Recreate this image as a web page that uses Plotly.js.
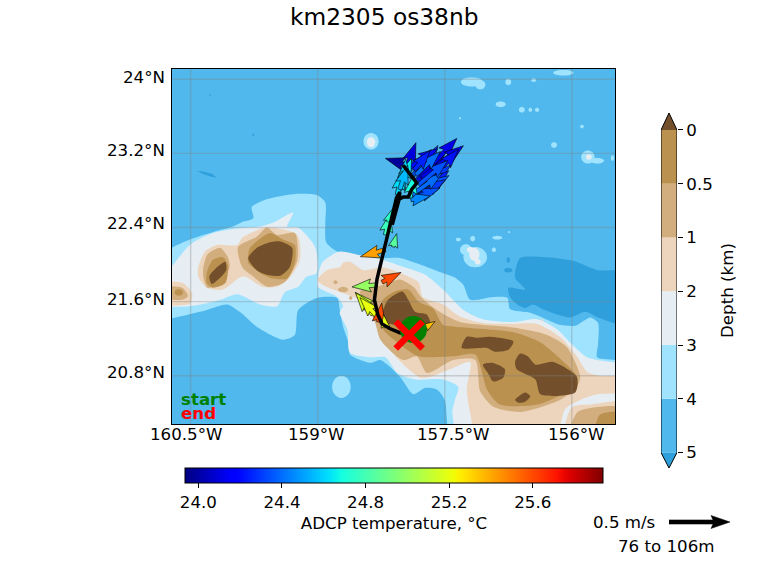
<!DOCTYPE html>
<html><head><meta charset="utf-8">
<script src="https://cdn.plot.ly/plotly-3.0.1.min.js"></script>
<style>html,body{margin:0;padding:0;background:#fff}</style></head>
<body><div id="chart" style="width:768px;height:576px"></div>
<script>
// ---------- Depth band colours (deep to land) ----------
const depthColors = ['#50b8ec','#9fe3ff','#e6edf3','#ecd5bc','#d2ae7e','#ba914f'];
const deepColor = '#2f9fdb', landColor = '#73502b';
const depthTickText = ['5','4','3','2','1','0.5','0'];

// ---------- Bathymetry outlines: [lon,lat,...] ----------
const deepPolys = [
 [-156.61,22.07,-156.29,22.08,-155.98,22.04,-155.70,21.94,-155.49,21.92,-155.49,21.35,-155.69,21.43,-155.84,21.49,-156.02,21.43,-156.32,21.51,-156.46,21.57,-156.55,21.53,-156.63,21.56,-156.73,21.65,-156.75,21.75,-156.55,21.73,-156.67,21.86],
 [-160.42,23.01,-160.25,22.98,-160.20,22.94,-160.33,22.97]
];
const deepIslets = [[-159.76,23.40,.012,.012],[-160.27,23.83,.015,.006],[-156.75,22.05,.02,.03],[-156.75,21.94,.05,.025]];
const km4Polys = [
 [-160.72,22.08,-160.51,22.27,-160.24,22.35,-160.00,22.41,-159.89,22.46,-159.76,22.50,-159.78,22.62,-159.62,22.70,-159.29,22.76,-159.01,22.75,-158.91,22.67,-158.91,22.45,-158.90,22.24,-158.77,22.14,-158.54,22.10,-158.23,22.07,-158.03,22.07,-157.79,22.00,-157.56,21.92,-157.38,21.86,-157.28,21.78,-157.20,21.62,-156.93,21.65,-156.76,21.64,-156.73,21.52,-156.49,21.48,-156.35,21.43,-156.14,21.35,-155.96,21.34,-155.78,21.43,-155.69,21.37,-155.69,21.14,-155.70,21.00,-155.49,20.93,-155.49,20.28,-157.41,20.28,-157.50,20.54,-157.59,20.65,-157.73,20.67,-157.87,20.60,-158.03,20.79,-158.26,20.97,-158.38,20.94,-158.62,21.03,-158.62,21.11,-158.70,21.33,-158.74,21.51,-158.77,21.64,-159.01,21.64,-159.23,21.51,-159.27,21.24,-159.41,21.19,-159.72,21.33,-159.92,21.49,-160.07,21.57,-160.39,21.49,-160.72,21.43]
];
const km4Islets = [[-158.72,20.68,.11,.12],[-158.37,23.33,.09,.09],[-157.18,23.97,.13,.05],[-157.08,23.94,.06,.05],[-156.75,23.97,.035,.035],[-156.45,23.99,.03,.02],[-156.10,24.07,.12,.03],[-156.84,23.73,.06,.03],[-156.59,23.67,.035,.03],[-156.49,23.67,.022,.022],[-156.41,23.67,.025,.022],[-155.88,23.49,.022,.02],[-156.21,23.29,.035,.03],[-155.81,23.16,.08,.07],[-155.70,23.12,.08,.03],[-155.52,23.15,.02,.03],[-157.32,23.58,.012,.012],[-157.14,22.08,.14,.11],[-157.25,22.16,.07,.06],[-157.17,22.28,.03,.03],[-156.88,22.29,.06,.02],[-156.92,22.16,.025,.025],[-156.74,22.35,.012,.012],[-157.34,22.27,.03,.02]];
const km3Polys = [
 [-160.72,21.76,-160.51,22.21,-160.24,22.34,-159.95,22.39,-159.68,22.41,-159.53,22.45,-159.29,22.56,-159.36,22.41,-159.23,22.40,-159.03,22.19,-159.01,21.91,-159.13,21.87,-159.23,21.76,-159.39,21.70,-159.48,21.55,-159.68,21.57,-159.95,21.68,-160.15,21.62,-160.51,21.55,-160.72,21.57],
 [-159.00,21.87,-158.94,22.03,-158.74,22.14,-158.50,22.10,-158.23,22.05,-157.97,21.97,-157.73,21.89,-157.52,21.73,-157.28,21.51,-157.05,21.41,-156.69,21.38,-156.41,21.41,-156.17,21.30,-156.02,21.16,-155.82,21.00,-155.70,20.97,-155.49,20.89,-155.49,20.28,-157.32,20.28,-157.41,20.40,-157.38,20.54,-157.34,20.68,-157.52,20.76,-157.85,20.76,-158.06,20.83,-158.20,21.00,-158.36,21.00,-158.62,21.05,-158.65,21.30,-158.74,21.48,-158.70,21.55,-158.77,21.65,-159.00,21.76]
];
const km3Islets = [[-158.37,23.32,.05,.055],[-157.15,22.11,.06,.07],[-157.11,22.03,.035,.03],[-157.20,22.16,.04,.03],[-155.80,23.16,.035,.03]];
const km2Polys = [
 [-160.41,21.87,-160.41,21.97,-160.33,22.14,-160.19,22.21,-159.95,22.21,-159.89,22.29,-159.60,22.40,-159.24,22.32,-159.21,22.05,-159.33,21.86,-159.48,21.76,-159.65,21.76,-159.86,21.87,-159.92,21.86,-160.12,21.73,-160.31,21.75],
 [-160.72,21.80,-160.59,21.80,-160.48,21.68,-160.51,21.58,-160.72,21.58],
 [-159.00,21.84,-158.89,21.94,-158.74,21.97,-158.70,22.02,-158.62,22.03,-158.46,21.94,-158.23,21.97,-158.06,21.92,-157.81,21.81,-157.76,21.65,-157.52,21.57,-157.32,21.44,-157.05,21.37,-156.69,21.36,-156.41,21.36,-156.14,21.22,-155.94,21.01,-155.82,20.84,-155.67,20.80,-155.49,20.78,-155.49,20.63,-155.70,20.60,-155.90,20.54,-156.08,20.44,-156.20,20.28,-157.11,20.28,-157.20,20.40,-157.24,20.65,-157.20,20.95,-157.44,20.87,-157.67,20.79,-157.79,20.78,-157.95,20.89,-158.12,21.05,-158.26,21.22,-158.32,21.37,-158.38,21.53,-158.58,21.65,-158.94,21.78],
 [-156.08,20.28,-156.00,20.46,-155.78,20.49,-155.49,20.51,-155.49,20.28]
];
const km2Islets = [[-156.35,21.40,.012,.012]];
const km1Polys = [
 [-160.72,21.75,-160.60,21.75,-160.53,21.66,-160.60,21.62,-160.72,21.65],
 [-160.35,21.97,-160.30,22.11,-160.15,22.18,-160.06,22.08,-160.04,21.97,-160.15,21.80,-160.30,21.75,-160.35,21.86],
 [-159.94,22.19,-159.72,22.30,-159.60,22.40,-159.48,22.32,-159.27,22.34,-159.24,22.05,-159.39,21.81,-159.59,21.76,-159.76,21.87,-159.89,21.97],
 [-158.50,21.71,-158.23,21.78,-158.03,21.84,-157.87,21.76,-157.77,21.64,-157.56,21.49,-157.32,21.38,-156.69,21.32,-156.29,21.24,-156.06,21.11,-155.90,20.79,-155.94,20.68,-156.14,20.54,-156.61,20.41,-156.93,20.47,-157.08,20.63,-157.14,20.97,-157.40,20.97,-157.71,20.83,-157.83,21.01,-157.99,20.97,-158.26,21.19,-158.32,21.37,-158.41,21.55],
 [-156.02,20.28,-155.93,20.41,-155.49,20.45,-155.49,20.28]
];
const km1Islets = [[-158.70,21.73,.06,.03],[-158.79,21.81,.025,.02],[-158.61,21.64,.02,.02]];
const km05Polys = [
 [-160.31,21.91,-160.24,22.05,-160.12,22.08,-160.06,22.00,-160.09,21.80,-160.24,21.75,-160.31,21.80],
 [-159.82,22.11,-159.80,22.18,-159.65,22.30,-159.56,22.34,-159.41,22.27,-159.27,22.21,-159.27,22.02,-159.36,21.85,-159.53,21.85,-159.68,21.91,-159.82,22.02],
 [-158.23,21.62,-158.09,21.71,-157.93,21.73,-157.81,21.60,-157.64,21.53,-157.52,21.35,-157.38,21.33,-156.69,21.27,-156.37,21.16,-156.06,20.92,-155.94,20.79,-156.02,20.65,-156.41,20.49,-156.85,20.49,-157.00,20.65,-157.14,21.03,-157.40,21.01,-157.81,21.01,-158.03,21.14,-158.20,21.27,-158.29,21.40],
 [-155.72,20.28,-155.67,20.38,-155.49,20.40,-155.49,20.28]
];
const km05Islets = [[-160.64,21.70,.05,.035]];
const landPolys = [
 [-159.82,22.07,-159.72,22.18,-159.56,22.24,-159.44,22.25,-159.30,22.18,-159.33,21.97,-159.44,21.88,-159.60,21.89,-159.72,21.94],
 [-160.28,21.87,-160.19,21.97,-160.09,22.03,-160.08,21.94,-160.15,21.86,-160.25,21.79],
 [-158.00,21.71,-157.93,21.62,-157.85,21.49,-157.71,21.46,-157.67,21.35,-157.79,21.24,-158.09,21.35,-158.18,21.37,-158.23,21.48,-158.17,21.62],
 [-157.24,21.22,-157.12,21.21,-156.96,21.22,-156.69,21.17,-156.75,21.08,-156.91,21.06,-157.00,21.10,-157.30,21.10],
 [-157.05,20.92,-156.94,20.94,-156.79,20.87,-156.81,20.78,-156.93,20.74,-156.99,20.83],
 [-156.67,20.95,-156.61,21.04,-156.52,21.01,-156.43,20.92,-156.22,20.95,-155.94,20.79,-155.96,20.62,-156.37,20.60,-156.43,20.76,-156.65,20.87],
 [-156.67,20.54,-156.55,20.62,-156.49,20.58,-156.55,20.52,-156.63,20.51]
];

// ---------- ADCP vectors at the ship track ----------
const arrowLon = [-157.97,-157.97,-157.89,-157.84,-157.81,-157.79,-157.77,-157.77,-157.79,-157.77,-157.81,-157.85,-157.86,-157.90,-157.97,-157.93,-157.89,-157.81,-157.84,-157.86,-158.05,-157.99,-157.91,-158.06,-158.03,-158.11,-158.20,-158.17,-158.20,-158.24,-158.30,-158.37,-158.35,-158.30,-158.28,-158.20,-157.73];
const arrowLat = [23.08,23.00,22.94,22.89,22.91,22.94,22.94,22.81,22.81,22.75,22.75,22.72,22.72,22.70,22.97,23.04,22.75,22.86,22.97,23.02,22.78,22.81,22.72,22.75,22.81,22.19,22.32,22.46,22.16,21.81,21.78,21.53,21.46,21.44,21.38,21.32,21.32];
const arrowU = [-.16,.09,.16,.18,.23,.30,.34,.30,.25,.22,.25,.25,.21,.16,.16,.24,.25,.24,.20,.13,.11,.02,.03,.04,.065,.03,.04,.04,-.205,.155,-.205,-.13,-.14,-.14,.025,-.016,.08];
const arrowV = [.05,.24,.23,.30,.25,.32,.26,.33,.20,.20,.16,.15,.08,.03,.16,.16,.18,.20,.19,.16,.28,.25,.19,.20,.20,.11,.18,.11,-.057,.08,-.016,.13,.18,.155,.155,.107,.05];
const arrowTemp = [23.98,24.10,24.35,24.30,24.20,24.12,24.12,24.22,24.30,24.25,24.35,24.30,24.35,24.45,24.40,24.20,24.40,24.35,24.40,24.25,24.65,24.60,24.70,24.62,24.55,24.85,24.78,24.75,25.42,25.60,25.00,25.10,25.15,25.20,25.60,25.20,25.35];
const trackLon = [-157.92,-158.03,-158.15,-158.24,-158.29,-158.33,-158.30,-158.22,-158.15,-158.07,-158.03,-158.04,-158.12,-158.05,-157.99,-157.93,-157.89,-157.83,-157.99];
const trackLat = [21.245,21.265,21.31,21.36,21.46,21.62,21.84,22.16,22.43,22.72,22.78,22.70,22.43,22.70,22.73,22.73,22.81,22.88,23.07];
const startPoint = [-157.87,21.30];
const endPoint = [-157.92,21.24];

// ---------- Axes labels ----------
const gridLon = [-160.5,-159,-157.5,-156];
const gridLat = [24,23.2,22.4,21.6,20.8];
const lonLabels = ['160.5°W','159°W','157.5°W','156°W'];
const latLabels = ['24°N','23.2°N','22.4°N','21.6°N','20.8°N'];
const tempTicks = [24.0,24.4,24.8,25.2,25.6];
const tempTickText = ['24.0','24.4','24.8','25.2','25.6'];
const legendSpeed = 0.5;

// ---------- Geometry / helpers ----------
const W=768,H=576, FONT='"DejaVu Sans", sans-serif', FS=16.67;
const pxLon=84.67, pxLat=92.8, pxPerMs=122;
const PL=172,PR=615,PT=69,PB=424;
const xRange=[-160.72,-155.49], yRange=[20.28,24.11];
const tMin=23.936, tMax=25.936;
const fx=p=>p/W, fy=p=>1-p/H;
function interp(t,pts){for(let i=1;i<pts.length;i++){if(t<=pts[i][0]){const a=pts[i-1],b=pts[i];return a[1]+(b[1]-a[1])*(t-a[0])/(b[0]-a[0]);}}return pts[pts.length-1][1];}
function jet(t){
 const r=interp(t,[[0,0],[.35,0],[.66,1],[.89,1],[1,.5]]),g=interp(t,[[0,0],[.125,0],[.375,1],[.64,1],[.91,0],[1,0]]),b=interp(t,[[0,.5],[.11,1],[.34,1],[.65,0],[1,0]]);
 return `rgb(${Math.round(r*255)},${Math.round(g*255)},${Math.round(b*255)})`;
}
const jetScale=[];for(let i=0;i<=64;i++)jetScale.push([i/64,jet(i/64)]);
// Outlines touching the map frame run slightly past it, so curve smoothing cannot round the frame's corners
const past=(v,lo,hi,d)=>v<=lo?lo-d:(v>=hi?hi+d:v);
function unflat(list){const x=[],y=[];list.forEach(f=>{
  const fxs=[],fys=[];for(let i=0;i<f.length;i+=2){fxs.push(past(f[i],xRange[0],xRange[1],.15));fys.push(past(f[i+1],yRange[0],yRange[1],.15));}
  x.push(...fxs,fxs[0],null);y.push(...fys,fys[0],null);});return {x,y};}
function ellipses(list){return list.map(e=>{const o=[];for(let k=0;k<14;k++){const a=k/14*2*Math.PI;o.push(e[0]+e[2]*Math.cos(a),e[1]+e[3]*Math.sin(a));}return o;});}
const traces=[];
function addLevel(polys,islets,color,smooth){
 const p=unflat(polys.concat(ellipses(islets)));
 const line=smooth?{width:0,color:color,shape:'spline',smoothing:.7}:{width:0,color:color};
 traces.push({type:'scatter',mode:'lines',x:p.x,y:p.y,fill:'toself',fillcolor:color,line:line,hoverinfo:'skip',showlegend:false});
}
function arrowPoly(lon,lat,u,v){
 const dx=u*pxPerMs,dy=v*pxPerMs,L=Math.hypot(dx,dy)||1,ux=dx/L,uy=dy/L,nx=-uy,ny=ux;
 let w=4.2,hl=19,hal=17,hw=13;
 if(L<hl){const s=L/hl;w*=s;hl*=s;hal*=s;hw*=s;}
 const pts=[[0,w/2],[L-hal,w/2],[L-hl,hw/2],[L,0],[L-hl,-hw/2],[L-hal,-w/2],[0,-w/2],[0,w/2]];
 return {x:pts.map(p=>lon+(p[0]*ux+p[1]*nx)/pxLon),y:pts.map(p=>lat+(p[0]*uy+p[1]*ny)/pxLat)};
}

// ocean background of the map
addLevel([[xRange[0],yRange[0],xRange[1],yRange[0],xRange[1],yRange[1],xRange[0],yRange[1]]],[],depthColors[0],false);
// bathymetry
addLevel(deepPolys,deepIslets,deepColor,true);
addLevel(km4Polys,km4Islets,depthColors[1],true);
addLevel(km3Polys,km3Islets,depthColors[2],true);
addLevel(km2Polys,km2Islets,depthColors[3],true);
addLevel(km1Polys,km1Islets,depthColors[4],true);
addLevel(km05Polys,km05Islets,depthColors[5],true);
addLevel(landPolys,[],landColor,true);
// gridlines above the filled contours
const gridX=[],gridY=[];
gridLon.forEach(v=>{gridX.push(v,v,null);gridY.push(yRange[0],yRange[1],null);});
gridLat.forEach(v=>{gridX.push(xRange[0],xRange[1],null);gridY.push(v,v,null);});
traces.push({type:'scatter',mode:'lines',x:gridX,y:gridY,line:{color:'rgba(128,128,128,0.32)',width:1.4},hoverinfo:'skip',showlegend:false});
// vectors
arrowLon.forEach((lon,i)=>{
 const p=arrowPoly(lon,arrowLat[i],arrowU[i],arrowV[i]);
 traces.push({type:'scatter',mode:'lines',x:p.x,y:p.y,fill:'toself',fillcolor:jet((arrowTemp[i]-tMin)/(tMax-tMin)),line:{color:'#000',width:0.6},hoverinfo:'skip',showlegend:false});
});
// temperature colourbar carrier
traces.push({type:'scatter',mode:'markers',x:arrowLon,y:arrowLat,hoverinfo:'skip',showlegend:false,
 marker:{size:1,opacity:0,color:arrowTemp,colorscale:jetScale,cmin:tMin,cmax:tMax,showscale:true,
  colorbar:{orientation:'h',x:fx((185+603)/2),xanchor:'center',y:fy(468),yanchor:'top',lenmode:'pixels',len:418,thicknessmode:'pixels',thickness:15,xpad:0,ypad:0,
   outlinewidth:1,outlinecolor:'#000',tickmode:'array',tickvals:tempTicks,ticktext:tempTickText,ticks:'outside',ticklen:5,tickcolor:'#000',tickfont:{family:FONT,size:FS,color:'#000'},
   title:{text:'ADCP temperature, °C',side:'bottom',font:{family:FONT,size:FS,color:'#000'}}}}});
// track, start, end
traces.push({type:'scatter',mode:'lines',x:trackLon,y:trackLat,line:{color:'#000',width:3.5},hoverinfo:'skip',showlegend:false});
traces.push({type:'scatter',mode:'markers',x:[startPoint[0]],y:[startPoint[1]],marker:{size:27,color:'#008000'},hoverinfo:'skip',showlegend:false});
traces.push({type:'scatter',mode:'markers',x:[endPoint[0]],y:[endPoint[1]],marker:{size:27,symbol:'x-thin',color:'#ff0000',line:{color:'#ff0000',width:6.5}},hoverinfo:'skip',showlegend:false});

// depth colourbar in its own axes (0 at bottom = 5 km)
const barFill=depthColors.map((c,i)=>({type:'scatter',mode:'lines',xaxis:'x2',yaxis:'y2',x:[0,1,1,0,0],y:[i,i,i+1,i+1,i],fill:'toself',fillcolor:c,line:{width:0,color:c},hoverinfo:'skip',showlegend:false}));
barFill.forEach(t=>traces.push(t));
const yBarMin=-0.288,yBarMax=6.316;
traces.push({type:'scatter',mode:'lines',xaxis:'x2',yaxis:'y2',x:[0,1,.5,0],y:[6,6,yBarMax,6],fill:'toself',fillcolor:landColor,line:{width:0,color:landColor},hoverinfo:'skip',showlegend:false});
traces.push({type:'scatter',mode:'lines',xaxis:'x2',yaxis:'y2',x:[0,1,.5,0],y:[0,0,yBarMin,0],fill:'toself',fillcolor:deepColor,line:{width:0,color:deepColor},hoverinfo:'skip',showlegend:false});
traces.push({type:'scatter',mode:'lines',xaxis:'x2',yaxis:'y2',x:[0,0,.5,1,1,.5,0],y:[0,6,yBarMax,6,0,yBarMin,0],line:{color:'#000',width:1},hoverinfo:'skip',showlegend:false});
// scale arrow in its own axes
const la=arrowPoly(0,0,legendSpeed,0);
traces.push({type:'scatter',mode:'lines',xaxis:'x3',yaxis:'y3',x:la.x,y:la.y,fill:'toself',fillcolor:'#000',line:{color:'#000',width:0.5},hoverinfo:'skip',showlegend:false});

const hidden={visible:false,fixedrange:true};
const annotations=[];
const tf={family:FONT,size:FS,color:'#000'};
const lonLabelPx=[186,316,453,576], latLabelPy=[77,150,224,299,372];
lonLabels.forEach((t,i)=>annotations.push({text:t,xref:'paper',yref:'paper',x:fx(lonLabelPx[i]),y:fy(434),xanchor:'center',yanchor:'middle',showarrow:false,font:tf}));
latLabels.forEach((t,i)=>annotations.push({text:t,xref:'paper',yref:'paper',x:fx(167),y:fy(latLabelPy[i]),xanchor:'right',yanchor:'middle',showarrow:false,font:tf}));
annotations.push({text:'start',xref:'paper',yref:'paper',x:fx(179),y:fy(399),xanchor:'left',yanchor:'middle',showarrow:false,font:{family:FONT,size:16.67,color:'#008000',weight:'bold'}});
annotations.push({text:'end',xref:'paper',yref:'paper',x:fx(179),y:fy(413),xanchor:'left',yanchor:'middle',showarrow:false,font:{family:FONT,size:16.67,color:'#ff0000',weight:'bold'}});
annotations.push({text:'0.5 m/s',xref:'paper',yref:'paper',x:fx(657),y:fy(522),xanchor:'right',yanchor:'middle',showarrow:false,font:tf});
annotations.push({text:'76 to 106m',xref:'paper',yref:'paper',x:fx(717),y:fy(546),xanchor:'right',yanchor:'middle',showarrow:false,font:tf});
annotations.push({text:'km2305 os38nb',xref:'paper',yref:'paper',x:.5,y:fy(16),xanchor:'center',yanchor:'middle',showarrow:false,font:{family:FONT,size:23.3,color:'#000'}});
annotations.push({text:'Depth (km)',xref:'paper',yref:'paper',x:fx(727),y:fy(291),textangle:-90,xanchor:'center',yanchor:'middle',showarrow:false,font:tf});

const layout={
 width:W,height:H,margin:{l:0,r:0,t:0,b:0},paper_bgcolor:'#fff',plot_bgcolor:'#fff',showlegend:false,font:{family:FONT,size:FS,color:'#000'},
 xaxis:{domain:[fx(PL),fx(PR)],range:xRange,showgrid:false,zeroline:false,showticklabels:false,ticks:'',showline:true,mirror:true,linecolor:'#000',linewidth:1.2,fixedrange:true},
 yaxis:{domain:[fy(PB),fy(PT)],range:yRange,showgrid:false,zeroline:false,showticklabels:false,ticks:'',showline:true,mirror:true,linecolor:'#000',linewidth:1.2,fixedrange:true},
 xaxis2:Object.assign({domain:[fx(661),fx(677)],range:[0,1],anchor:'y2'},hidden),
 yaxis2:{domain:[fy(468),fy(113)],range:[yBarMin,yBarMax],anchor:'x2',side:'right',showgrid:false,zeroline:false,showline:false,tickmode:'array',tickvals:[0,1,2,3,4,5,6],ticktext:depthTickText,ticks:'outside',ticklen:5,tickcolor:'#000',tickfont:tf,fixedrange:true},
 xaxis3:Object.assign({domain:[fx(669),fx(731)],range:[0,62/pxLon],anchor:'y3'},hidden),
 yaxis3:Object.assign({domain:[fy(532),fy(512)],range:[-10/pxLat,10/pxLat],anchor:'x3'},hidden),
 annotations
};
Plotly.newPlot('chart',traces,layout,{displayModeBar:false,staticPlot:true});
</script></body></html>
